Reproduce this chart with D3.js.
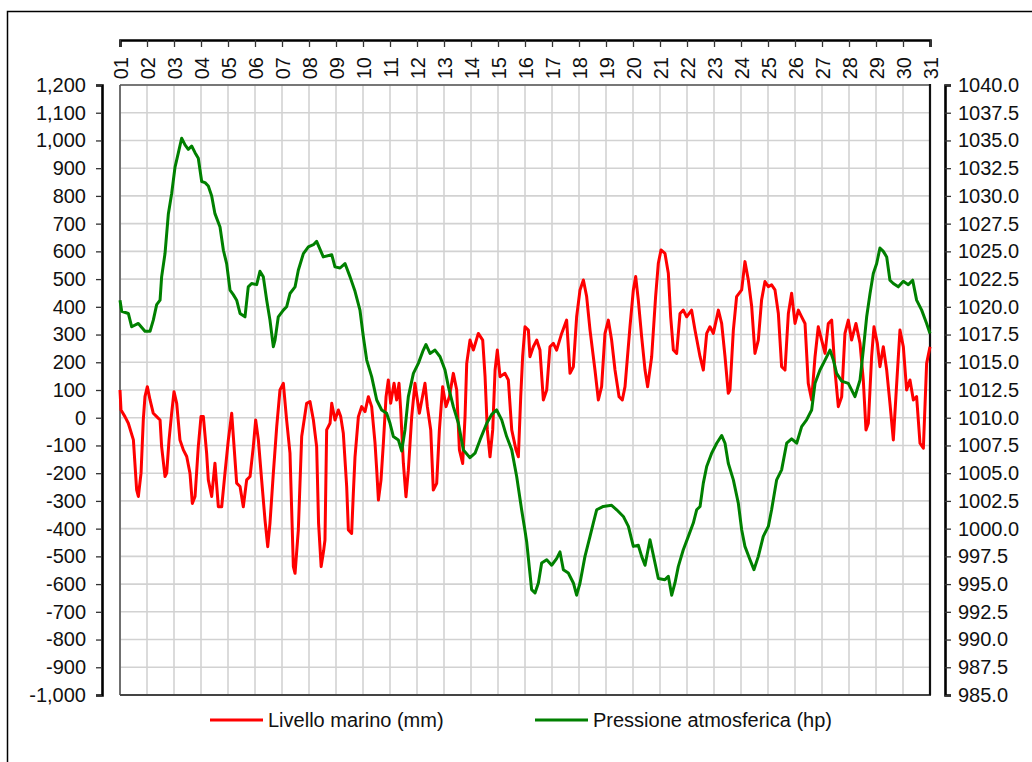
<!DOCTYPE html>
<html>
<head>
<meta charset="utf-8">
<script src="https://cdn.jsdelivr.net/npm/d3@7"></script>
<style>
  html, body { margin: 0; padding: 0; background: #fff; }
  svg { display: block; }
  text { font-family: "Liberation Sans", Arial, sans-serif; fill: #111; }
</style>
</head>
<body>
<svg id="chart" width="1032" height="762"></svg>
<script>
// ---------- data ----------
const dayLabels = ["01","02","03","04","05","06","07","08","09","10","11","12","13","14","15","16","17","18","19","20","21","22","23","24","25","26","27","28","29","30","31"];
const levelTicks = [-1000,-900,-800,-700,-600,-500,-400,-300,-200,-100,0,100,200,300,400,500,600,700,800,900,1000,1100,1200];
const pressureTicks = [985,987.5,990,992.5,995,997.5,1000,1002.5,1005,1007.5,1010,1012.5,1015,1017.5,1020,1022.5,1025,1027.5,1030,1032.5,1035,1037.5,1040];
const seriesNames = ["Livello marino (mm)", "Pressione atmosferica (hp)"];

// [hours since day 01 00:00, sea level mm]
const seaLevel = [[0,100],[0.9,28],[4.4,4],[7.4,-20],[11.9,-80],[14.8,-260],[16.3,-284],[18.7,-200],[20.7,-8],[22.2,76],[24.3,112],[26.7,64],[29.6,16],[32.6,4],[35.6,-8],[37,-104],[40,-212],[41.5,-200],[43.6,-80],[45.9,16],[48,94],[50.4,52],[53.3,-80],[56.3,-116],[59.3,-140],[62.2,-200],[64.3,-309],[66.7,-284],[69.6,-104],[72,4],[74.1,4],[77,-128],[78.5,-224],[81.5,-284],[84.4,-164],[87.4,-321],[90.4,-321],[93.3,-200],[96.3,-80],[99.3,16],[101.6,-116],[103.7,-236],[106.7,-248],[109.6,-321],[112.6,-224],[115.6,-212],[118.5,-104],[120.6,-8],[123,-80],[125.9,-224],[128.9,-369],[131.3,-465],[133.3,-381],[136.3,-200],[139.3,-32],[142.2,100],[145.2,124],[148.1,-8],[151.1,-128],[154.1,-537],[155.6,-561],[158.5,-405],[161.5,-68],[165.9,52],[168.9,58],[171.9,-8],[174.8,-104],[176.5,-380],[178.8,-537],[181,-480],[182.2,-441],[183.7,-44],[186.7,-20],[188.2,52],[191.1,-8],[194.1,28],[196.2,4],[198.5,-56],[201.5,-249],[203,-405],[205.9,-417],[207.4,-273],[208.9,-141],[211.9,4],[214.8,40],[217.8,22],[220.8,76],[223.7,40],[226.7,-92],[228.2,-189],[229.7,-297],[232,-225],[234.1,-92],[236.5,76],[238.5,136],[240.6,52],[243.6,124],[245.9,64],[248,124],[249.5,28],[251.9,-165],[254.2,-285],[256.3,-189],[259.3,4],[262.2,124],[266.1,16],[271.1,124],[273.2,40],[276.2,-44],[278.5,-261],[281.5,-237],[283.9,-44],[286.8,112],[289.8,40],[292.8,76],[296.3,160],[299.3,100],[301.7,-116],[304.6,-165],[306.7,4],[308.2,196],[311.1,280],[314.1,244],[318.5,304],[322.4,280],[324.5,148],[326.5,-44],[328.9,-141],[331.3,-44],[333.4,172],[335.4,244],[337.8,148],[342.2,160],[345.2,136],[348.2,-44],[352,-116],[354.1,-141],[356.2,76],[357.9,220],[360,328],[363,316],[364.4,220],[367.4,256],[370.4,280],[373.3,244],[376.3,64],[379.3,100],[382.2,256],[385.2,268],[388.1,244],[392.6,304],[397,352],[400,160],[403,184],[405.9,364],[408.9,461],[411.9,497],[414.8,437],[417.8,316],[422.2,172],[425.2,64],[428.1,112],[431.1,304],[434.1,352],[437,280],[440,172],[443.6,76],[446.5,64],[448.9,112],[453.3,328],[456.3,461],[458.4,509],[460.7,425],[463.7,292],[466.7,172],[469,112],[472.6,220],[476.1,437],[478.5,557],[480.9,605],[484.4,593],[487.4,521],[489.5,364],[491.9,244],[494.8,232],[497.8,376],[500.7,388],[503.7,364],[508.1,388],[511.1,316],[515.6,220],[518.5,172],[521.5,304],[524.4,328],[527.4,304],[531.9,388],[534.8,340],[537.8,220],[540.7,88],[542.2,100],[545.2,316],[548.1,437],[552.6,461],[555.5,563],[558.5,497],[561.5,401],[564.4,232],[567.4,280],[570.3,425],[573.3,491],[576.3,473],[579.2,479],[582.2,461],[585.2,376],[588.1,184],[591.1,172],[594.1,376],[597,449],[600,340],[603,388],[605.9,364],[608.9,340],[611.8,124],[614.8,64],[617.8,220],[620.7,328],[623.7,280],[626.7,232],[629.6,340],[632.6,352],[635.5,172],[638.5,40],[641.5,76],[644.4,304],[647.4,352],[650.3,280],[654.2,340],[657.8,268],[660.7,136],[663.1,-44],[665.2,-20],[668.1,220],[670.2,328],[673.2,268],[675.5,184],[678.5,256],[681.5,172],[684.4,52],[687.4,-80],[690.4,124],[693.3,316],[696.3,256],[699.2,100],[702.2,136],[705.2,64],[708.1,76],[711.1,-92],[714.1,-110],[717,196],[720,256]];

// [hours since day 01 00:00, pressure hPa]
const pressure = [[0,1020.6],[1.5,1019.6],[7.4,1019.4],[10.4,1018.2],[16.3,1018.5],[22.2,1017.8],[26.7,1017.8],[29.6,1018.8],[32.6,1020.2],[35.6,1020.6],[37,1022.7],[40,1024.8],[41.5,1026.6],[43,1028.4],[45.9,1030.2],[48.9,1032.6],[51.9,1033.9],[54.8,1035.2],[57.8,1034.6],[60.7,1034.2],[63.7,1034.5],[66.7,1033.9],[69.6,1033.4],[72.6,1031.3],[75.6,1031.2],[78.5,1030.9],[81.5,1030.0],[84.4,1028.4],[88.9,1027.2],[91.9,1025.1],[94.8,1023.9],[97.8,1021.5],[100.7,1021.1],[103.7,1020.6],[106.7,1019.4],[111.1,1019.1],[114,1021.8],[117,1022.1],[121.5,1022.0],[124.4,1023.2],[127.4,1022.7],[130.4,1020.6],[133.3,1018.8],[136.3,1016.4],[137.8,1017.0],[140.7,1019.1],[145.2,1019.7],[148.1,1020.0],[151.1,1021.2],[155.6,1021.8],[158.5,1023.3],[163,1024.8],[167.4,1025.4],[171.9,1025.6],[174.8,1025.9],[180.7,1024.5],[188.2,1024.7],[191.1,1023.6],[195.6,1023.5],[200,1023.9],[204.5,1022.7],[208.9,1021.4],[213.3,1019.7],[216.3,1017.3],[219.3,1015.2],[223.7,1013.7],[228.2,1011.6],[232.6,1010.7],[237,1010.4],[240,1009.5],[243,1008.3],[247.4,1008.0],[250.4,1007.0],[253.3,1008.9],[256.3,1011.9],[260.8,1014.0],[265.2,1014.9],[269.6,1016.1],[272,1016.6],[275.6,1015.8],[280,1016.1],[284.5,1015.5],[288.9,1014.3],[291.9,1012.8],[296.3,1011.0],[300.8,1009.5],[305.2,1007.1],[311.1,1006.4],[315.6,1006.8],[320,1008.0],[326,1009.5],[330.4,1010.3],[334.8,1010.7],[339.3,1009.8],[343.7,1008.3],[348.2,1007.1],[352.6,1004.7],[357,1001.7],[360,999.8],[361.5,998.8],[365.9,994.5],[368.9,994.2],[371.9,995.1],[374.8,996.9],[379.3,997.2],[383.7,996.7],[388.1,997.3],[391.1,997.9],[394.1,996.3],[398.5,996.0],[403,995.1],[405.9,994.0],[408.9,995.1],[413.3,997.5],[417.8,999.3],[420.7,1000.5],[423.7,1001.7],[429.6,1002.0],[437,1002.1],[441.5,1001.7],[447.4,1001.1],[451.9,1000.2],[456.3,998.4],[460.7,998.5],[463.7,997.5],[466.7,996.7],[471.1,999.0],[474.1,997.6],[478.5,995.5],[484.4,995.4],[487.4,995.7],[490.4,994.0],[493.3,995.1],[496.3,996.6],[500.7,998.1],[505.2,999.3],[509.6,1000.5],[512.6,1001.7],[515.6,1002.0],[518.5,1004.1],[521.5,1005.6],[525.9,1006.8],[530.4,1007.7],[534.8,1008.4],[537.8,1007.7],[540.7,1005.9],[545.2,1004.4],[549.6,1002.3],[552.6,999.9],[555.5,998.4],[560,997.2],[563.5,996.3],[567.4,997.5],[571.8,999.3],[576.3,1000.2],[579.2,1001.7],[583.7,1004.4],[588.1,1005.3],[592.6,1007.7],[597,1008.1],[601.5,1007.7],[605.9,1009.2],[610.3,1009.8],[614.8,1010.7],[617.8,1013.1],[622.2,1014.3],[626.7,1015.2],[631.1,1016.1],[634.1,1015.2],[637,1014.0],[641.5,1013.3],[647.4,1013.1],[653.3,1011.9],[657.8,1013.4],[660.7,1016.1],[663.7,1019.1],[666.7,1021.2],[669.6,1023.0],[672.6,1023.9],[675.5,1025.3],[678.5,1025.0],[681.5,1024.5],[684.4,1022.4],[687.4,1022.1],[691.8,1021.8],[696.3,1022.3],[700.7,1022.0],[704.6,1022.4],[708.1,1020.6],[712.6,1019.7],[717,1018.5],[720,1017.6]];

// ---------- layout ----------
const svg = d3.select("#chart");
const P = { left: 120, right: 930, top: 85, bottom: 695 };
const FONT = 20;

const x = d3.scaleLinear().domain([0, (dayLabels.length - 1) * 24]).range([P.left, P.right]);
const yL = d3.scaleLinear().domain([d3.min(levelTicks), d3.max(levelTicks)]).range([P.bottom, P.top]);
const yR = d3.scaleLinear().domain([d3.min(pressureTicks), d3.max(pressureTicks)]).range([P.bottom, P.top]);

const loc = d3.formatLocale({ decimal: ".", thousands: ",", grouping: [3], currency: ["", ""], minus: "-" });
const fmtL = loc.format(",");
const fmtR = loc.format(".1f");

// outer frame
svg.append("rect").attr("x", 7.5).attr("y", 11.5).attr("width", 1060).attr("height", 800)
  .attr("fill", "#fff").attr("stroke", "#000").attr("stroke-width", 1.5);

// plot background
svg.append("rect").attr("x", P.left).attr("y", P.top).attr("width", P.right - P.left).attr("height", P.bottom - P.top)
  .attr("fill", "#fff");

// grid
const grid = svg.append("g").attr("stroke", "#d2d2d2").attr("stroke-width", 1.6);
grid.selectAll("line.v").data(dayLabels.map((d, i) => i * 24)).join("line")
  .attr("x1", d => x(d)).attr("x2", d => x(d)).attr("y1", P.top).attr("y2", P.bottom);
grid.selectAll("line.h").data(levelTicks).join("line").attr("class", "h")
  .attr("x1", P.left).attr("x2", P.right).attr("y1", d => yL(d)).attr("y2", d => yL(d));

// plot border
svg.append("line").attr("x1", P.left).attr("x2", P.right).attr("y1", P.top).attr("y2", P.top).attr("stroke", "#555").attr("stroke-width", 1.6);
svg.append("line").attr("x1", P.left).attr("x2", P.left).attr("y1", P.top).attr("y2", P.bottom).attr("stroke", "#555").attr("stroke-width", 1.6);
svg.append("line").attr("x1", P.left).attr("x2", P.right + 1).attr("y1", P.bottom).attr("y2", P.bottom).attr("stroke", "#444").attr("stroke-width", 2);
svg.append("line").attr("x1", P.right).attr("x2", P.right).attr("y1", P.top - 1).attr("y2", P.bottom).attr("stroke", "#111").attr("stroke-width", 2.2);

// left axis
const axL = svg.append("g").attr("transform", "translate(102,0)")
  .call(d3.axisLeft(yL).tickValues(levelTicks).tickFormat(fmtL).tickSize(6).tickPadding(10));
// right axis
const axR = svg.append("g").attr("transform", "translate(945,0)")
  .call(d3.axisRight(yR).tickValues(pressureTicks).tickFormat(fmtR).tickSize(6).tickPadding(7));
// top axis
const axT = svg.append("g").attr("transform", "translate(0,40)")
  .call(d3.axisBottom(x).tickValues(dayLabels.map((d, i) => i * 24)).tickFormat((d, i) => dayLabels[i]).tickSize(7).tickPadding(0));

[axL, axR, axT].forEach(g => {
  g.select(".domain").attr("stroke", "#000").attr("stroke-width", 2.6);
  g.selectAll(".tick line").attr("stroke", "#333").attr("stroke-width", 1.3);
  g.selectAll(".tick text").attr("font-family", '"Liberation Sans", Arial, sans-serif')
    .attr("font-size", FONT).attr("fill", "#111");
});
axT.selectAll(".tick text")
  .attr("transform", "rotate(-90)")
  .attr("text-anchor", "end")
  .attr("x", -17).attr("y", 0).attr("dy", "0.36em");

// series
const lineL = d3.line().x(d => x(d[0])).y(d => yL(d[1]));
const lineR = d3.line().x(d => x(d[0])).y(d => yR(d[1]));
svg.append("path").datum(seaLevel).attr("d", lineL)
  .attr("fill", "none").attr("stroke", "#ff0000").attr("stroke-width", 3).attr("stroke-linejoin", "round");
svg.append("path").datum(pressure).attr("d", lineR)
  .attr("fill", "none").attr("stroke", "#008000").attr("stroke-width", 3).attr("stroke-linejoin", "round");

// legend
const legend = [
  { name: seriesNames[0], color: "#ff0000", x0: 210 },
  { name: seriesNames[1], color: "#008000", x0: 535 }
];
const lg = svg.append("g").selectAll("g").data(legend).join("g")
  .attr("transform", d => `translate(${d.x0},720)`);
lg.append("line").attr("x1", 0).attr("x2", 53).attr("y1", 0).attr("y2", 0)
  .attr("stroke", d => d.color).attr("stroke-width", 3);
lg.append("text").attr("x", 58).attr("y", 0).attr("dy", "0.35em")
  .attr("font-size", FONT).text(d => d.name);
</script>
</body>
</html>
